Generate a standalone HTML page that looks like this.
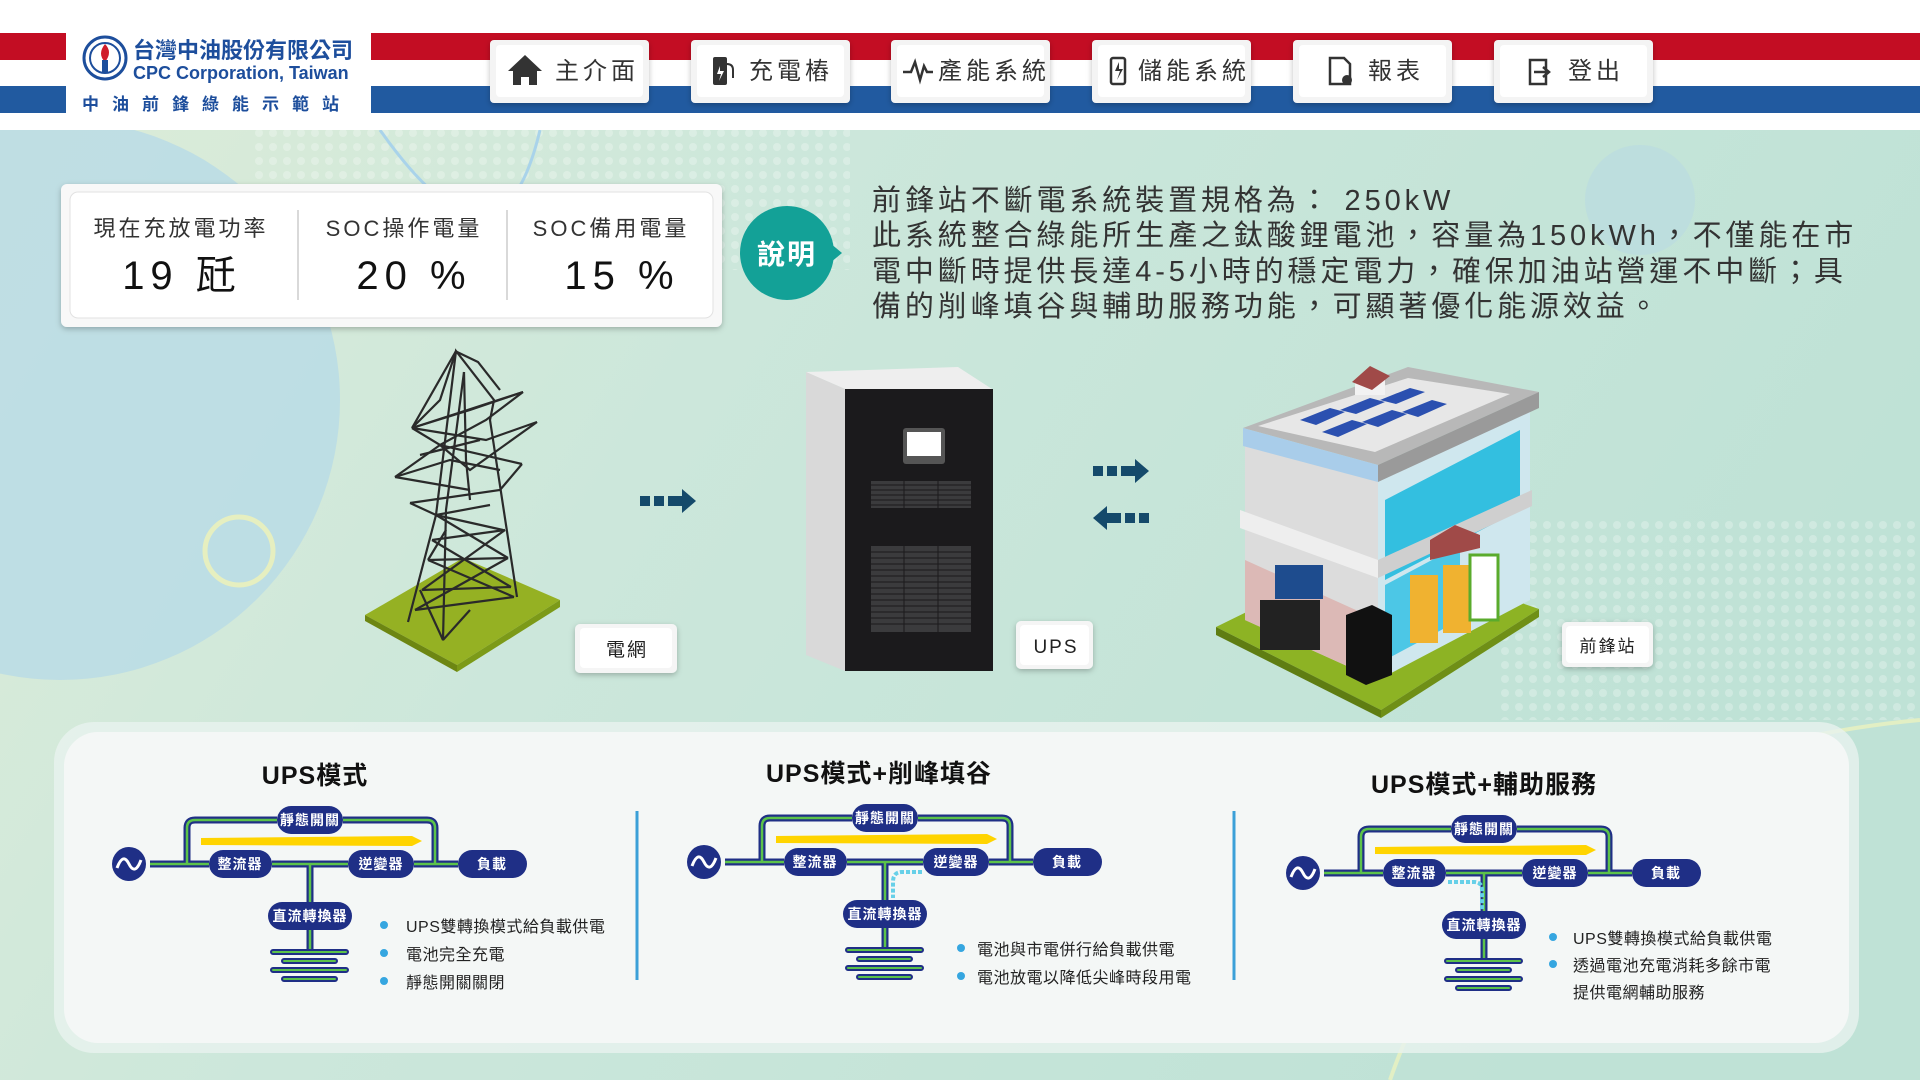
<!DOCTYPE html>
<html><head><meta charset="utf-8"><style>
html,body{margin:0;padding:0;width:1920px;height:1080px;overflow:hidden;background:#fff}
svg{display:block}
text{font-family:"Liberation Sans","Noto Sans CJK TC",sans-serif}
</style></head><body>
<svg width="1920" height="1080" viewBox="0 0 1920 1080" xmlns="http://www.w3.org/2000/svg">
<defs>
<linearGradient id="bg" x1="0" y1="0" x2="1" y2="0.3">
<stop offset="0" stop-color="#dcecd8"/><stop offset="0.4" stop-color="#cce7db"/><stop offset="1" stop-color="#bfe2d6"/>
</linearGradient>
<filter id="sh" x="-10%" y="-10%" width="120%" height="130%"><feDropShadow dx="0" dy="2" stdDeviation="3" flood-color="#000" flood-opacity="0.25"/></filter>
<pattern id="dots" width="14" height="14" patternUnits="userSpaceOnUse"><circle cx="7" cy="7" r="4" fill="#ffffff" opacity="0.25"/></pattern>
</defs>
<rect x="0" y="130" width="1920" height="950" fill="url(#bg)"/>
<circle cx="60" cy="400" r="280" fill="#b8dbe6" opacity="0.8"/>
<rect x="250" y="130" width="600" height="140" fill="url(#dots)"/>
<rect x="1500" y="520" width="420" height="200" fill="url(#dots)"/>
<path d="M380 130 Q500 300 540 130" fill="none" stroke="#a9d3ea" stroke-width="3"/>
<path d="M1390 1080 Q1500 760 1920 720" fill="none" stroke="#e2efc4" stroke-width="4"/>
<circle cx="239" cy="551" r="34" fill="none" stroke="#e6efc0" stroke-width="5"/>
<circle cx="1640" cy="200" r="55" fill="#b9dbe3" opacity="0.6"/>

<rect x="0" y="0" width="1920" height="130" fill="#fff"/>
<rect x="0" y="33" width="1920" height="27" fill="#c30d23"/>
<rect x="0" y="86" width="1920" height="27" fill="#215aa0"/>
<rect x="66" y="33" width="305" height="80" fill="#fff"/>
<circle cx="105" cy="58" r="21" fill="#fff" stroke="#1d4e9c" stroke-width="3"/>
<circle cx="105" cy="58" r="15" fill="none" stroke="#1d4e9c" stroke-width="2"/>
<path d="M105 44 q8 8 0 18 q-8 -8 0 -18z" fill="#d01c2a"/>
<rect x="102" y="60" width="6" height="12" fill="#1d4e9c"/>
<text x="133" y="58" font-size="22" font-weight="bold" fill="#1d4e9c">台灣中油股份有限公司</text>
<text x="133" y="79" font-size="18" font-weight="bold" fill="#1d4e9c">CPC Corporation, Taiwan</text>
<text x="82" y="110" font-size="17" font-weight="bold" fill="#1d4e9c" letter-spacing="13">中油前鋒綠能示範站</text>

<g font-size="24" fill="#333" letter-spacing="4">
<g><rect x="490" y="40" width="159" height="63" rx="4" fill="#f4f4f4" filter="url(#sh)"/><rect x="496" y="45" width="147" height="52" rx="4" fill="#fff"/>
<path d="M508 71 l17 -16 l17 16 h-5 v14 h-8 v-8 h-8 v8 h-8 v-14z" fill="#333"/><text x="555" y="79">主介面</text></g>
<g><rect x="691" y="40" width="159" height="63" rx="4" fill="#f4f4f4" filter="url(#sh)"/><rect x="697" y="45" width="147" height="52" rx="4" fill="#fff"/>
<rect x="713" y="57" width="14" height="28" rx="2" fill="#333"/><path d="M720 66 l-3 8 h4 l-2 7 l5 -10 h-4z" fill="#fff"/><path d="M727 64 q6 0 6 6 v8" fill="none" stroke="#333" stroke-width="2"/><text x="749" y="79">充電樁</text></g>
<g><rect x="891" y="40" width="159" height="63" rx="4" fill="#f4f4f4" filter="url(#sh)"/><rect x="897" y="45" width="147" height="52" rx="4" fill="#fff"/>
<path d="M903 72 h8 l4 -10 l5 18 l4 -14 l3 6 h6" fill="none" stroke="#333" stroke-width="2.5"/><text x="938" y="79">產能系統</text></g>
<g><rect x="1092" y="40" width="159" height="63" rx="4" fill="#f4f4f4" filter="url(#sh)"/><rect x="1098" y="45" width="147" height="52" rx="4" fill="#fff"/>
<rect x="1111" y="58" width="14" height="26" rx="2" fill="none" stroke="#333" stroke-width="2.5"/><path d="M1119 62 l-4 9 h5 l-3 9 l6 -11 h-4z" fill="#333"/><text x="1138" y="79">儲能系統</text></g>
<g><rect x="1293" y="40" width="159" height="63" rx="4" fill="#f4f4f4" filter="url(#sh)"/><rect x="1299" y="45" width="147" height="52" rx="4" fill="#fff"/>
<path d="M1330 58 h14 l6 6 v20 h-20z" fill="none" stroke="#333" stroke-width="2.5"/><circle cx="1347" cy="80" r="5" fill="#333"/><text x="1368" y="79">報表</text></g>
<g><rect x="1494" y="40" width="159" height="63" rx="4" fill="#f4f4f4" filter="url(#sh)"/><rect x="1500" y="45" width="147" height="52" rx="4" fill="#fff"/>
<path d="M1530 60 h16 v24 h-16z" fill="none" stroke="#333" stroke-width="2.5"/><path d="M1534 72 h14 m-5 -5 l6 5 l-6 5" fill="none" stroke="#333" stroke-width="2.5"/><text x="1568" y="79">登出</text></g>
</g>

<rect x="61" y="184" width="661" height="143" rx="6" fill="#f8f8f8" filter="url(#sh)"/>
<rect x="70" y="192" width="643" height="126" rx="8" fill="#fff" stroke="#e2e2e2"/>
<line x1="298" y1="210" x2="298" y2="300" stroke="#ccc" stroke-width="1.5"/>
<line x1="507" y1="210" x2="507" y2="300" stroke="#ccc" stroke-width="1.5"/>
<g font-size="22" fill="#333" letter-spacing="3" text-anchor="middle">
<text x="181" y="236">現在充放電功率</text><text x="404" y="236">SOC操作電量</text><text x="611" y="236">SOC備用電量</text>
</g>
<g font-size="40" fill="#111" letter-spacing="6" text-anchor="middle">
<text x="182" y="289">19 瓩</text><text x="414" y="289">20 %</text><text x="622" y="289">15 %</text>
</g>

<circle cx="787" cy="253" r="47" fill="#13a197"/>
<path d="M830 243 l12 10 l-12 10z" fill="#13a197"/>
<text x="787" y="264" font-size="28" font-weight="bold" fill="#fff" text-anchor="middle" letter-spacing="2">說明</text>
<g font-size="29" fill="#333" letter-spacing="3.9">
<text x="872" y="210">前鋒站不斷電系統裝置規格為： 250kW</text>
<text x="872" y="245">此系統整合綠能所生產之鈦酸鋰電池，容量為150kWh，不僅能在市</text>
<text x="872" y="281">電中斷時提供長達4-5小時的穩定電力，確保加油站營運不中斷；具</text>
<text x="872" y="316">備的削峰填谷與輔助服務功能，可顯著優化能源效益。</text>
</g>

<polygon points="365,615 463,558 560,600 457,665" fill="#95b123"/>
<polygon points="365,615 457,665 457,672 365,621" fill="#6d8612"/>
<polygon points="457,665 560,600 560,607 457,672" fill="#7c9a18"/>
<g stroke="#2a2a2a" stroke-width="2.2" fill="none">
<path d="M408,622 L436,515 L456,351 L494,400 L490,420 L517,597"/>
<path d="M443,640 L446,510 L464,372 M455,351 L478,362 L500,390"/>
<path d="M412,428 L456,351 M412,428 L523,392 M412,428 L486,440 L537,422 M395,477 L440,445 L522,464 M395,477 L470,490 M410,503 L500,490 L522,464 M410,503 L436,515"/>
<path d="M412,428 L440,445 L486,420 L523,392 M440,445 L470,470 L537,422 M395,477 L450,460 L500,470"/>
<path d="M436,515 L490,505 M436,515 L503,530 M432,540 L505,530 M428,560 L508,558 M422,590 L511,587 M415,610 L514,597"/>
<path d="M436,515 L508,558 M446,530 L428,560 M432,540 L511,587 M505,530 L422,590 M428,560 L514,597 M508,558 L415,610 M443,640 L420,590 M443,640 L470,610"/>
<path d="M464,372 L466,460 L470,500 M412,428 L470,410 L523,392 M420,455 L480,440 M456,351 L440,400 L412,428"/>
</g>
<g fill="#154a6b">
<rect x="640" y="496" width="10" height="10"/><rect x="654" y="496" width="10" height="10"/><rect x="668" y="496" width="14" height="10"/><path d="M682 489 l14 12 l-14 12z"/>
<rect x="1093" y="466" width="10" height="10"/><rect x="1107" y="466" width="10" height="10"/><rect x="1121" y="466" width="14" height="10"/><path d="M1135 459 l14 12 l-14 12z"/>
<rect x="1139" y="513" width="10" height="10"/><rect x="1125" y="513" width="10" height="10"/><rect x="1107" y="513" width="14" height="10"/><path d="M1107 506 l-14 12 l14 12z"/>
</g>
<g font-size="19" fill="#222" text-anchor="middle" letter-spacing="2">
<rect x="575" y="624" width="102" height="49" rx="5" fill="#f5f5f5" filter="url(#sh)"/><rect x="580" y="628" width="92" height="40" rx="4" fill="#fff"/><text x="627" y="656">電網</text>
<rect x="1016" y="621" width="77" height="48" rx="5" fill="#f5f5f5" filter="url(#sh)"/><rect x="1020" y="625" width="69" height="40" rx="4" fill="#fff"/><text x="1056" y="653">UPS</text>
<rect x="1562" y="622" width="91" height="45" rx="5" fill="#f5f5f5" filter="url(#sh)"/><rect x="1566" y="626" width="83" height="37" rx="4" fill="#fff"/><text x="1608" y="652" font-size="17">前鋒站</text>
</g>

<polygon points="806,372 958,367 992,389 845,389" fill="#eeeeee"/>
<polygon points="806,372 845,389 845,671 806,655" fill="#d9d9d9"/>
<rect x="845" y="389" width="148" height="282" fill="#1b1a1c"/>
<rect x="903" y="428" width="42" height="36" rx="3" fill="#555"/><rect x="907" y="432" width="34" height="24" fill="#fff"/>
<g fill="#3b3b3d"><rect x="871" y="481" width="100" height="27"/><rect x="871" y="546" width="100" height="86"/></g>
<g stroke="#1b1a1c" stroke-width="1"><path d="M871 485h100M871 490h100M871 495h100M871 500h100M871 505h100"/>
<path d="M871 552h100M871 558h100M871 564h100M871 570h100M871 576h100M871 582h100M871 588h100M871 594h100M871 600h100M871 606h100M871 612h100M871 618h100M871 624h100"/>
<path d="M904 481v27M938 481v27M904 546v86M938 546v86"/></g>

<polygon points="1216,627 1371,551 1539,609 1381,710" fill="#8db324"/>
<polygon points="1216,627 1381,710 1381,718 1216,635" fill="#5f7d12"/>
<polygon points="1381,710 1539,609 1539,617 1381,718" fill="#6f8f16"/>
<polygon points="1245,440 1378,478 1378,680 1245,620" fill="#dcdcdc"/>
<polygon points="1245,560 1378,620 1378,680 1245,620" fill="#dcb9b6"/>
<polygon points="1378,478 1530,400 1530,600 1378,680" fill="#cfe7ee"/>
<polygon points="1385,500 1520,430 1520,510 1385,580" fill="#33bfe0"/>
<polygon points="1385,585 1460,545 1460,620 1385,660" fill="#4cc7e6"/>
<polygon points="1243,428 1408,367 1539,392 1378,465" fill="#b8b8b8"/>
<polygon points="1258,426 1408,378 1510,394 1375,452" fill="#e7e7e7"/>
<g fill="#2b50b0"><polygon points="1300,420 1330,408 1345,412 1316,425"/><polygon points="1340,410 1370,398 1385,402 1356,414"/><polygon points="1380,400 1410,388 1425,392 1396,404"/><polygon points="1322,432 1352,420 1367,424 1338,437"/><polygon points="1362,422 1392,410 1407,414 1378,427"/><polygon points="1402,412 1432,400 1447,404 1418,417"/></g>
<polygon points="1243,428 1378,465 1378,482 1243,446" fill="#a9cdea"/>
<polygon points="1378,465 1539,392 1539,408 1378,482" fill="#9a9a9a"/>
<polygon points="1240,510 1378,560 1378,578 1240,528" fill="#eeeeee"/>
<polygon points="1378,560 1532,490 1532,506 1378,578" fill="#cfcfcf"/>
<polygon points="1355,380 1370,368 1385,378 1385,395 1355,395" fill="#f2f2f2"/><polygon points="1352,382 1370,366 1390,376 1372,390" fill="#a04a48"/>
<rect x="1260" y="600" width="60" height="50" fill="#222"/><rect x="1275" y="565" width="48" height="34" fill="#1e4c8e"/>
<polygon points="1346,615 1372,605 1392,615 1392,675 1366,685 1346,675" fill="#111"/>
<rect x="1410" y="575" width="28" height="68" fill="#f0b230"/><rect x="1443" y="565" width="28" height="68" fill="#f0b230"/>
<rect x="1470" y="555" width="28" height="65" fill="#ffffff" stroke="#5aab2c" stroke-width="3"/>
<polygon points="1430,540 1455,525 1480,535 1480,548 1430,560" fill="#a04a48"/>

<rect x="54" y="722" width="1805" height="331" rx="40" fill="#e9f3ef" opacity="0.8"/>
<rect x="64" y="732" width="1785" height="311" rx="34" fill="#f4f7f6"/>
<line x1="637" y1="811" x2="637" y2="980" stroke="#3ba0d8" stroke-width="3"/>
<line x1="1234" y1="811" x2="1234" y2="980" stroke="#3ba0d8" stroke-width="3"/>
<g font-size="25" font-weight="bold" fill="#111" text-anchor="middle" letter-spacing="1">
<text x="315" y="784">UPS模式</text><text x="879" y="782">UPS模式+削峰填谷</text><text x="1484" y="793">UPS模式+輔助服務</text>
</g>

<defs>
<g id="dia">
<path d="M150 864 H209 M272 864 H348 M414 864 H458 M187 864 V828 Q187 820 195 820 H277 M343 820 H427 Q435 820 435 828 V864 M310 864 V902 M310 930 V952" fill="none" stroke="#1f2f86" stroke-width="7"/>
<path d="M150 864 H209 M272 864 H348 M414 864 H458 M187 864 V828 Q187 820 195 820 H277 M343 820 H427 Q435 820 435 828 V864 M310 864 V902 M310 930 V952" fill="none" stroke="#5cc24a" stroke-width="2.5"/>
<g stroke="#1f2f86" stroke-width="6" stroke-linecap="round"><path d="M273 952h73M284 961h51M273 970h73M284 979h51"/></g>
<g stroke="#5cc24a" stroke-width="2" stroke-linecap="round"><path d="M273 952h73M284 961h51M273 970h73M284 979h51"/></g>
<polygon points="201,838 412,836 422,841 412,846 201,845" fill="#ffd400"/>
<circle cx="129" cy="864" r="17" fill="#1f2f86"/>
<path d="M117 868 q6 -16 12 -4 q6 12 12 -4" fill="none" stroke="#fff" stroke-width="3"/>
<g fill="#1f2f86"><rect x="209" y="850" width="63" height="28" rx="14"/><rect x="348" y="850" width="66" height="28" rx="14"/><rect x="458" y="850" width="69" height="28" rx="14"/><rect x="277" y="806" width="66" height="28" rx="14"/><rect x="268" y="902" width="84" height="28" rx="14"/></g>
<g font-size="14" font-weight="bold" fill="#fff" text-anchor="middle" letter-spacing="1">
<text x="240" y="869">整流器</text><text x="381" y="869">逆變器</text><text x="492" y="869">負載</text><text x="310" y="825">靜態開關</text><text x="310" y="921">直流轉換器</text></g>
</g>
</defs>
<use href="#dia"/>
<use href="#dia" transform="translate(575,-2)"/>
<use href="#dia" transform="translate(1174,9)"/>
<path d="M922 872 H902 Q893 872 893 882 V898" fill="none" stroke="#66d0e8" stroke-width="4" stroke-dasharray="4 2"/>
<path d="M1448 882 H1474 Q1482 882 1482 890 V910" fill="none" stroke="#66d0e8" stroke-width="4" stroke-dasharray="4 2"/>

<g font-size="16" fill="#222" letter-spacing="0.5">
<g fill="#35a6e0"><circle cx="384" cy="925" r="4"/><circle cx="384" cy="953" r="4"/><circle cx="384" cy="981" r="4"/>
<circle cx="961" cy="948" r="4"/><circle cx="961" cy="976" r="4"/>
<circle cx="1553" cy="937" r="4"/><circle cx="1553" cy="964" r="4"/></g>
<text x="406" y="932">UPS雙轉換模式給負載供電</text><text x="406" y="960">電池完全充電</text><text x="406" y="988">靜態開關關閉</text>
<text x="977" y="955">電池與市電併行給負載供電</text><text x="977" y="983">電池放電以降低尖峰時段用電</text>
<text x="1573" y="944">UPS雙轉換模式給負載供電</text><text x="1573" y="971">透過電池充電消耗多餘市電</text><text x="1573" y="998">提供電網輔助服務</text>
</g>
</svg>
</body></html>
